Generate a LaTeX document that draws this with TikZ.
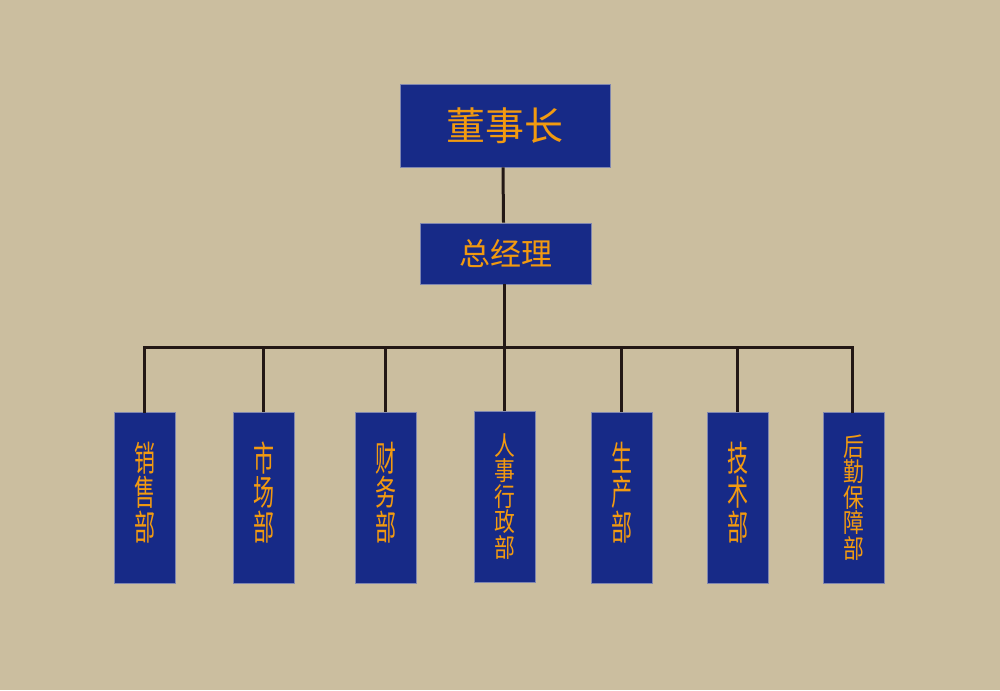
\documentclass[tikz,border=0pt]{standalone}
\usepackage{fontspec}
\newfontfamily\cjk{Noto Sans CJK SC}
\definecolor{bgc}{HTML}{CBBE9F}
\definecolor{boxc}{HTML}{172A87}
\definecolor{txtc}{HTML}{F29A10}
\definecolor{linec}{HTML}{231815}
\definecolor{edgec}{HTML}{7F86B0}
\newcommand{\vcA}[1]{\scalebox{0.6}[1]{#1}}
\newcommand{\vcB}[1]{\scalebox{0.8}[1]{#1}}
\setlength{\lineskiplimit}{-50pt}
\tikzset{
  x=1pt, y=-1pt,
  boxbase/.style={rectangle, fill=boxc, draw=edgec, line width=0.8pt, text=txtc, inner sep=0pt, font=\cjk},
  ceobox/.style={boxbase, minimum width=210pt, minimum height=83pt, font=\cjk\fontsize{39}{39}\selectfont},
  gmbox/.style={boxbase, minimum width=171pt, minimum height=61pt, font=\cjk\fontsize{31}{31}\selectfont},
  deptbox/.style={boxbase, minimum width=61pt, minimum height=171pt},
  vtA/.style={text=txtc, inner sep=0pt, align=center, font=\cjk\fontsize{35}{34.5}\selectfont},
  deptB/.style={deptbox, align=center, font=\cjk\fontsize{26}{25.5}\selectfont},
  conn/.style={draw=linec, line width=3pt}
}
\begin{document}
\begin{tikzpicture}
\fill[bgc] (0,0) rectangle (1000,690);
\useasboundingbox (0,0) rectangle (1000,690);
\node[ceobox] (ceo) at (505,125.5) {董事长};
\node[gmbox] (gm) at (505.5,253.5) {总经理};
\node[deptbox, label={[vtA,yshift=5pt]center:\vcA{销}\\\vcA{售}\\\vcA{部}}] (d1) at (144.5,497.5) {};
\node[deptbox, label={[vtA,yshift=5pt]center:\vcA{市}\\\vcA{场}\\\vcA{部}}] (d2) at (263.5,497.5) {};
\node[deptbox, label={[vtA,yshift=5pt]center:\vcA{财}\\\vcA{务}\\\vcA{部}}] (d3) at (385.5,497.5) {};
\node[deptB] (d4) at (504.5,496.5) {\vcB{人}\\\vcB{事}\\\vcB{行}\\\vcB{政}\\\vcB{部}};
\node[deptbox, label={[vtA,yshift=5pt]center:\vcA{生}\\\vcA{产}\\\vcA{部}}] (d5) at (621.5,497.5) {};
\node[deptbox, label={[vtA,yshift=5pt]center:\vcA{技}\\\vcA{术}\\\vcA{部}}] (d6) at (737.5,497.5) {};
\node[deptB] (d7) at (853.5,497.5) {\vcB{后}\\\vcB{勤}\\\vcB{保}\\\vcB{障}\\\vcB{部}};
\coordinate (bus) at (504,347);
\draw[conn] ([xshift=-2pt]ceo.south) -- ([xshift=-2pt]gm.north);
\draw[conn] ([xshift=-1.5pt]gm.south) -- ([xshift=-1.5pt]gm.south |- bus);
\draw[conn, line cap=rect] ([xshift=-0.5pt]d1.north) |- (bus) -| ([xshift=-1.5pt]d7.north);
\foreach \d in {d2,d3,d4,d5,d6}{
  \draw[conn] ([xshift=-0.5pt]\d.north) -- ([xshift=-0.5pt]\d.north |- bus);
}
\end{tikzpicture}
\end{document}
